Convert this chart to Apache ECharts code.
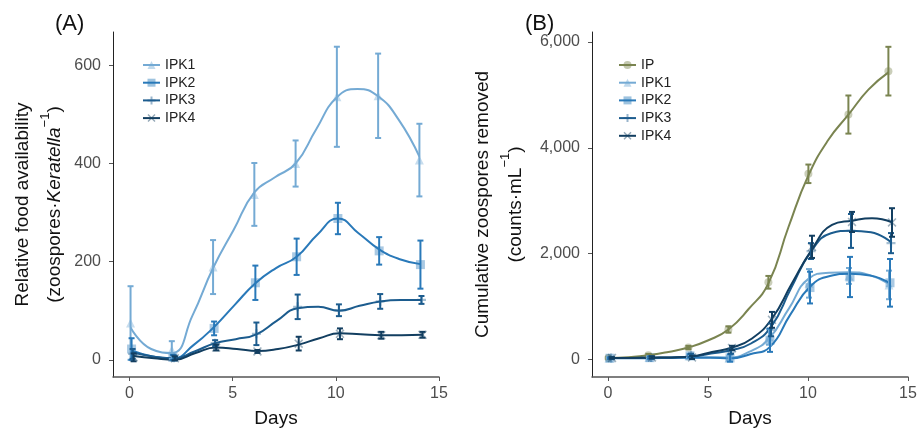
<!DOCTYPE html>
<html>
<head>
<meta charset="utf-8">
<script src="https://cdn.jsdelivr.net/npm/echarts@6/dist/echarts.min.js"></script>
<style>
html,body{margin:0;padding:0;background:#fff;}
#chart{width:921px;height:434px;}
</style>
</head>
<body>
<div id="chart"></div>
<script>
// ---------- DATA ----------
const days = [0, 2, 4, 6, 8, 10, 12, 14];
const fitDays = [0, 1, 2, 3, 4, 5, 6, 7, 8, 9, 10, 11, 12, 13, 14];
const xTicks = [0, 5, 10, 15];
const aYTicks = [0, 200, 400, 600];
const bYTicks = [0, 2000, 4000, 6000];

// Panel A: relative food availability (mean, error, fitted curve)
const aIPK1Mean = [75, 20, 189, 337, 400, 536, 538, 407];
const aIPK1Err  = [75, 18, 55, 64, 47, 102, 86, 74];
const aIPK1Fit  = [66, 22, 14, 90, 187, 265, 341, 372, 400, 470, 535, 552, 537, 489, 414];
const aIPK2Mean = [22, 5, 64, 157, 210, 288, 222, 194];
const aIPK2Err  = [22, 5, 14, 35, 37, 32, 28, 49];
const aIPK2Fit  = [19, 7, 3, 30, 67, 112, 156, 187, 210, 255, 288, 258, 225, 205, 195];
const aIPK3Mean = [12, 4, 34, 53, 108, 101, 119, 122];
const aIPK3Err  = [10, 5, 6, 23, 25, 12, 15, 8];
const aIPK3Fit  = [15, 7, 3, 17, 34, 42, 52, 80, 105, 108, 100, 110, 119, 122, 122];
const aIPK4Mean = [5, 3, 25, 17, 33, 53, 50, 51];
const aIPK4Err  = [8, 4, 6, 3, 14, 11, 7, 6];
const aIPK4Fit  = [8, 3, 0, 14, 25, 22, 18, 22, 31, 44, 54, 52, 50, 50, 51];

// Panel B: cumulative zoospores removed
const bIPMean   = [30, 81, 227, 568, 1460, 3510, 4630, 5450];
const bIPErr    = [20, 25, 30, 60, 120, 175, 360, 460];
const bIPFit    = [30, 45, 81, 144, 227, 365, 568, 950, 1439, 2500, 3480, 4153, 4627, 5100, 5428];
const bIPK1Mean = [30, 40, 70, 30, 430, 1440, 1580, 1410];
const bIPK1Err  = [15, 20, 30, 30, 150, 270, 150, 270];
const bIPK1Fit  = [30, 30, 30, 35, 40, 45, 40, 144, 398, 966, 1534, 1640, 1650, 1600, 1430];
const bIPK2Mean = [25, 35, 70, 30, 365, 1360, 1560, 1450];
const bIPK2Err  = [15, 20, 30, 70, 220, 300, 380, 450];
const bIPK2Fit  = [25, 25, 25, 30, 35, 35, 20, 100, 239, 839, 1375, 1578, 1620, 1590, 1440];
const bIPK3Mean = [30, 40, 80, 150, 560, 2050, 2430, 2200];
const bIPK3Err  = [15, 20, 30, 40, 120, 150, 320, 190];
const bIPK3Fit  = [30, 30, 35, 40, 55, 113, 176, 303, 617, 1345, 2038, 2386, 2436, 2405, 2216];
const bIPK4Mean = [30, 40, 40, 220, 750, 2130, 2600, 2590];
const bIPK4Err  = [15, 20, 30, 40, 150, 210, 190, 270];
const bIPK4Fit  = [30, 30, 35, 40, 60, 144, 227, 398, 776, 1440, 2083, 2544, 2625, 2670, 2595];

// ---------- STYLE ----------
const FONT = 'Liberation Sans, Arial, sans-serif';
const COL = {IP: '#7a8450', IPK1: '#74aad4', IPK2: '#2979b9', IPK3: '#1c5c8e', IPK4: '#123e60'};
const SYM = {
  IP: 'circle',
  IPK1: 'triangle',
  IPK2: 'rect',
  IPK3: 'path://M3,0H5V3H8V5H5V8H3V5H0V3H3Z',
  IPK4: 'path://M1,0L4,3L7,0L8,1L5,4L8,7L7,8L4,5L1,8L0,7L3,4L0,1Z'
};
const DODGE = {IP: 0.02, IPK1: 0.05, IPK2: 0.1, IPK3: 0.15, IPK4: 0.2};

function group(name, axis, mean, err, fit) {
  const c = COL[name], d = DODGE[name];
  const line = {
    type: 'line', name, xAxisIndex: axis, yAxisIndex: axis,
    data: fitDays.map((x, i) => [x + d, fit[i]]),
    smooth: 0.5, showSymbol: false, symbol: SYM[name], symbolSize: 9,
    lineStyle: {color: c, width: 2}, itemStyle: {color: c, opacity: 0.45},
    z: 3, silent: true
  };
  const pts = {
    type: 'scatter', name, xAxisIndex: axis, yAxisIndex: axis,
    data: days.map((x, i) => [x + d, mean[i]]),
    symbol: SYM[name], symbolSize: name === 'IP' ? 8 : 9,
    itemStyle: {color: c, opacity: 0.4}, z: 2, silent: true
  };
  const eb = {
    type: 'custom', name, xAxisIndex: axis, yAxisIndex: axis,
    data: days.map((x, i) => [x + d, mean[i] - err[i], mean[i] + err[i]]),
    encode: {x: 0, y: [1, 2]},
    itemStyle: {color: c}, z: 4, silent: true,
    renderItem: function (params, api) {
      const p1 = api.coord([api.value(0), api.value(1)]);
      const p2 = api.coord([api.value(0), api.value(2)]);
      const w = 3;
      const st = {stroke: c, lineWidth: 2};
      return {type: 'group', children: [
        {type: 'line', shape: {x1: p1[0], y1: p1[1], x2: p2[0], y2: p2[1]}, style: st},
        {type: 'line', shape: {x1: p1[0] - w, y1: p1[1], x2: p1[0] + w, y2: p1[1]}, style: st},
        {type: 'line', shape: {x1: p2[0] - w, y1: p2[1], x2: p2[0] + w, y2: p2[1]}, style: st}
      ]};
    }
  };
  return [line, pts, eb];
}

function xAxis(idx) {
  return {
    type: 'value', gridIndex: idx, min: -0.8, max: 15,
    name: 'Days', nameLocation: 'middle', nameGap: 32,
    nameTextStyle: {fontSize: 19, color: '#111', fontFamily: FONT},
    axisLine: {onZero: false, lineStyle: {color: '#555', width: 1.5}},
    axisTick: {customValues: xTicks, length: 4, lineStyle: {color: '#555'}},
    axisLabel: {customValues: xTicks, fontSize: 16, color: '#4d4d4d', margin: 9, fontFamily: FONT},
    splitLine: {show: false}
  };
}

const yAxisA = {
  type: 'value', gridIndex: 0, min: -35, max: 668,
  name: '{t|Relative food availability}\n{t|(zoospores·}{i|Keratella}{s|−1}{t|)}',
  nameLocation: 'middle', nameGap: 42, nameRotate: 90,
  nameTextStyle: {
    fontFamily: FONT, color: '#111',
    rich: {
      t: {fontSize: 19, lineHeight: 32, color: '#111', fontFamily: FONT},
      i: {fontSize: 19, lineHeight: 32, fontStyle: 'italic', color: '#111', fontFamily: FONT},
      s: {fontSize: 13, lineHeight: 20, verticalAlign: 'top', color: '#111', fontFamily: FONT}
    }
  },
  axisLine: {show: true, onZero: false, lineStyle: {color: '#222', width: 1}},
  axisTick: {show: true, customValues: aYTicks, length: 4, lineStyle: {color: '#555'}},
  axisLabel: {customValues: aYTicks, fontSize: 16, color: '#4d4d4d', margin: 12, fontFamily: FONT},
  splitLine: {show: false}
};

const yAxisB = {
  type: 'value', gridIndex: 1, min: -330, max: 6190,
  name: '{t|Cumulative zoospores removed}\n{t|(counts·mL}{s|−1}{t|)}',
  nameLocation: 'middle', nameGap: 60, nameRotate: 90,
  nameTextStyle: {
    fontFamily: FONT, color: '#111',
    rich: {
      t: {fontSize: 19, lineHeight: 33, color: '#111', fontFamily: FONT},
      s: {fontSize: 13, lineHeight: 20, verticalAlign: 'top', color: '#111', fontFamily: FONT}
    }
  },
  axisLine: {show: true, onZero: false, lineStyle: {color: '#222', width: 1}},
  axisTick: {show: true, customValues: bYTicks, length: 4, lineStyle: {color: '#555'}},
  axisLabel: {customValues: bYTicks, fontSize: 16, color: '#4d4d4d', margin: 12, fontFamily: FONT,
    formatter: v => Number(v).toLocaleString('en-US')},
  splitLine: {show: false}
};

const legendBase = {
  orient: 'vertical', itemWidth: 17, itemHeight: 10, itemGap: 3.7,
  textStyle: {fontSize: 14, color: '#222', fontFamily: FONT, lineHeight: 14},
  selectedMode: false
};

const option = {
  animation: false,
  backgroundColor: '#fff',
  title: [
    {text: '(A)', left: 50, top: 8, textStyle: {fontSize: 22, fontWeight: 'normal', color: '#111', fontFamily: FONT}},
    {text: '(B)', left: 520, top: 8, textStyle: {fontSize: 22, fontWeight: 'normal', color: '#111', fontFamily: FONT}}
  ],
  grid: [
    {left: 113, top: 32, width: 326, height: 345},
    {left: 592, top: 32, width: 316, height: 345}
  ],
  xAxis: [xAxis(0), xAxis(1)],
  yAxis: [yAxisA, yAxisB],
  legend: [
    Object.assign({}, legendBase, {data: ['IPK1', 'IPK2', 'IPK3', 'IPK4'], left: 137, top: 53}),
    Object.assign({}, legendBase, {data: ['IP', 'IPK1', 'IPK2', 'IPK3', 'IPK4'], left: 613, top: 53})
  ],
  series: [].concat(
    group('IPK1', 0, aIPK1Mean, aIPK1Err, aIPK1Fit),
    group('IPK2', 0, aIPK2Mean, aIPK2Err, aIPK2Fit),
    group('IPK3', 0, aIPK3Mean, aIPK3Err, aIPK3Fit),
    group('IPK4', 0, aIPK4Mean, aIPK4Err, aIPK4Fit),
    group('IP',   1, bIPMean,   bIPErr,   bIPFit),
    group('IPK1', 1, bIPK1Mean, bIPK1Err, bIPK1Fit),
    group('IPK2', 1, bIPK2Mean, bIPK2Err, bIPK2Fit),
    group('IPK3', 1, bIPK3Mean, bIPK3Err, bIPK3Fit),
    group('IPK4', 1, bIPK4Mean, bIPK4Err, bIPK4Fit)
  )
};

const chart = echarts.init(document.getElementById('chart'), null, {renderer: 'canvas'});
chart.setOption(option);
</script>
</body>
</html>
